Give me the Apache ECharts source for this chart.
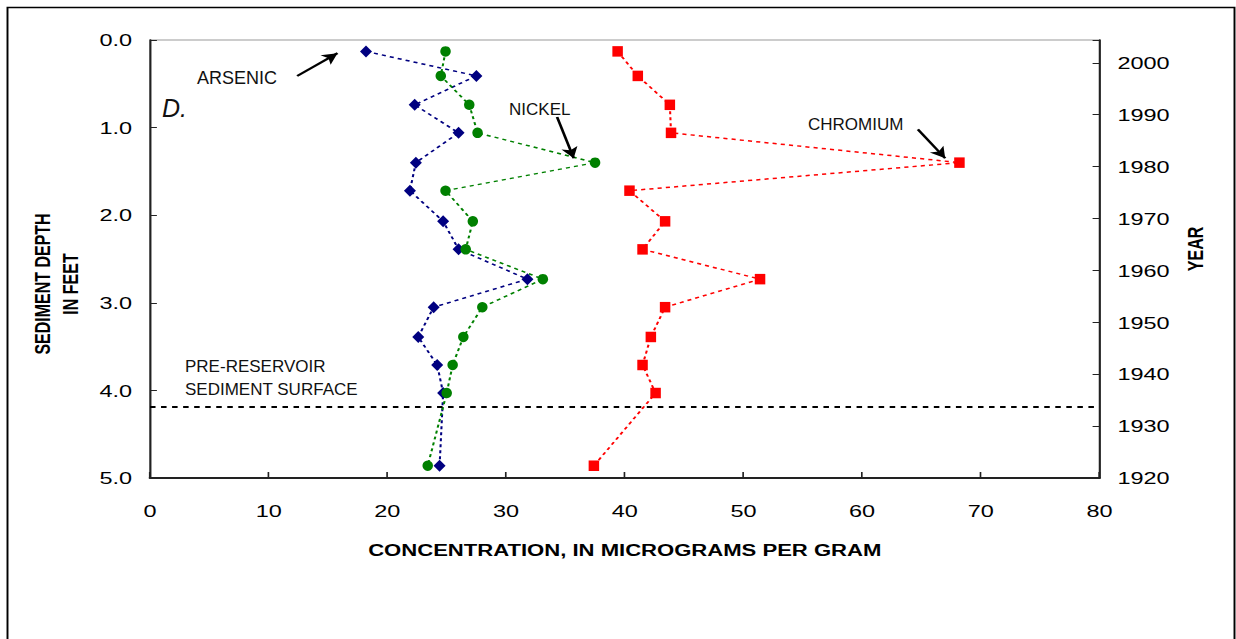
<!DOCTYPE html>
<html>
<head>
<meta charset="utf-8">
<script src="https://cdn.jsdelivr.net/npm/echarts@6/dist/echarts.min.js"></script>
<style>
html,body{margin:0;padding:0;background:#fff;overflow:hidden}
#wrap{width:1236px;height:639px;overflow:hidden;position:relative;background:#fff}
#chart{position:absolute;left:0;top:0;height:639px;transform-origin:0 0}
</style>
</head>
<body>
<div id="wrap"><div id="chart"></div></div>
<script>
// ---- data ----
const depthFeet = [0.13, 0.41, 0.74, 1.06, 1.40, 1.72, 2.07, 2.39, 2.73, 3.05, 3.39, 3.71, 4.03, 4.86];
const arsenic   = [18.2, 27.5, 22.3, 26.0, 22.4, 21.9, 24.7, 26.0, 31.8, 23.9, 22.6, 24.2, 24.7, 24.4];
const nickel    = [24.9, 24.5, 26.9, 27.6, 37.5, 24.9, 27.2, 26.6, 33.1, 28.0, 26.4, 25.5, 25.0, 23.4];
const chromium  = [39.4, 41.1, 43.8, 43.9, 68.2, 40.4, 43.4, 41.5, 51.4, 43.4, 42.2, 41.5, 42.6, 37.4];
const xTicks = [0, 10, 20, 30, 40, 50, 60, 70, 80];
const depthTicks = [0, 1, 2, 3, 4, 5];
const yearRange = [1920, 2004.4];
const preReservoirDepth = 4.19;
// annotation arrows: [fromConc, fromDepth, toConc, toDepth]
const arrowArsenic  = [12.4, 0.41, 15.8, 0.15];
const arrowNickel   = [34.3, 0.88, 35.7, 1.35];
const arrowChromium = [64.7, 1.02, 67.0, 1.35];

// ---- layout ----
const S = 1.38; // horizontal stretch of the original figure
const FONT = "'Liberation Sans', Arial, sans-serif";
const el = document.getElementById('chart');
el.style.width = (1236 / S) + 'px';
el.style.transform = 'scaleX(' + S + ')';

const chart = echarts.init(el, null, {renderer: 'svg'});
const pts = arr => depthFeet.map((d, i) => [arr[i], d]);
const arrowItem = a => [{coord: [a[0], a[1]]}, {coord: [a[2], a[3]]}];
const dash = [3, 3];

function annot(text, xRef, y, size, extra) {
  return Object.assign({
    type: 'text', x: xRef / S, y: y, scaleX: 1 / S, silent: true, z: 100,
    style: {text: text, fontFamily: FONT, fontSize: size, fill: '#111',
            align: 'left', verticalAlign: 'middle'}
  }, extra || {});
}

const option = {
  animation: false,
  backgroundColor: '#fff',
  grid: {left: 150 / S, right: 137 / S, top: 40, bottom: 161,
         show: true, borderColor: '#999', borderWidth: 1, backgroundColor: 'transparent'},
  xAxis: {
    type: 'value', min: xTicks[0], max: xTicks[xTicks.length - 1], interval: 10,
    axisLine: {show: true, onZero: false, lineStyle: {color: '#222', width: 2}},
    axisTick: {show: true, inside: true, length: 6, lineStyle: {color: '#222', width: 1.2}},
    axisLabel: {margin: 24, fontSize: 17, color: '#000', fontFamily: FONT},
    splitLine: {show: false},
    name: 'CONCENTRATION, IN MICROGRAMS PER GRAM',
    nameLocation: 'middle', nameGap: 65,
    nameTextStyle: {fontWeight: 'bold', fontSize: 16, color: '#000', fontFamily: FONT}
  },
  yAxis: [{
    type: 'value', inverse: true, min: depthTicks[0], max: depthTicks[depthTicks.length - 1], interval: 1,
    position: 'left',
    axisLine: {show: true, onZero: false, lineStyle: {color: '#222', width: 1.5}},
    axisTick: {show: true, inside: true, length: 5, lineStyle: {color: '#222', width: 1}},
    axisLabel: {margin: 13, fontSize: 17, color: '#000', fontFamily: FONT, formatter: v => v.toFixed(1)},
    splitLine: {show: false},
    name: 'SEDIMENT DEPTH\nIN FEET', nameLocation: 'middle', nameGap: 46, nameRotate: 90,
    nameTextStyle: {fontWeight: 'bold', fontSize: 16, color: '#000', fontFamily: FONT,
                    lineHeight: 20, padding: [0, 50, 0, 0]}
  }, {
    type: 'value', min: yearRange[0], max: yearRange[1], interval: 10,
    position: 'right',
    axisLine: {show: true, onZero: false, lineStyle: {color: '#222', width: 1.5}},
    axisTick: {show: true, inside: true, length: 5, lineStyle: {color: '#222', width: 1}},
    axisLabel: {margin: 13, fontSize: 17, color: '#000', fontFamily: FONT,
                formatter: v => (Math.abs(v % 10) < 1e-6 ? String(v) : '')},
    splitLine: {show: false},
    name: 'YEAR', nameLocation: 'middle', nameGap: 56, nameRotate: 90,
    nameTextStyle: {fontWeight: 'bold', fontSize: 16, color: '#000', fontFamily: FONT,
                    padding: [0, 0, 0, 20]}
  }],
  series: [{
    name: 'Arsenic', type: 'line', data: pts(arsenic),
    symbol: 'diamond', symbolSize: [12 / S, 12],
    itemStyle: {color: '#000080'}, lineStyle: {color: '#000080', width: 1.5, type: dash},
    markLine: {
      silent: true, symbol: 'none', label: {show: false},
      lineStyle: {color: '#000', width: 2, type: [4, 4]},
      data: [{yAxis: preReservoirDepth}]
    }
  }, {
    name: 'Nickel', type: 'line', data: pts(nickel),
    symbol: 'circle', symbolSize: [10.5 / S, 10.5],
    itemStyle: {color: '#008000'}, lineStyle: {color: '#008000', width: 1.5, type: dash},
    markLine: {
      silent: true, symbol: ['none', 'arrow'], symbolSize: [9, 11], label: {show: false},
      lineStyle: {color: '#000', width: 2, type: 'solid'},
      data: [arrowItem(arrowArsenic), arrowItem(arrowNickel), arrowItem(arrowChromium)]
    }
  }, {
    name: 'Chromium', type: 'line', data: pts(chromium),
    symbol: 'rect', symbolSize: [10.5 / S, 10.5],
    itemStyle: {color: '#ff0000'}, lineStyle: {color: '#ff0000', width: 1.5, type: dash}
  }],
  graphic: [
    {type: 'rect', silent: true, z: 0,
     shape: {x: 7.5 / S, y: 7.5, width: 1227 / S, height: 700},
     style: {fill: 'none', stroke: '#000', lineWidth: 1.4}},
    annot('ARSENIC', 197, 78, 18),
    annot('NICKEL', 509, 110, 17),
    annot('CHROMIUM', 808, 125, 17),
    annot('D.', 162, 108, 25, {style: {text: 'D.', fontFamily: FONT, fontSize: 25, fontStyle: 'italic',
           fill: '#111', align: 'left', verticalAlign: 'middle'}}),
    annot('PRE-RESERVOIR', 185, 367, 17),
    annot('SEDIMENT SURFACE', 185, 390, 17)
  ]
};
chart.setOption(option);
</script>
</body>
</html>
